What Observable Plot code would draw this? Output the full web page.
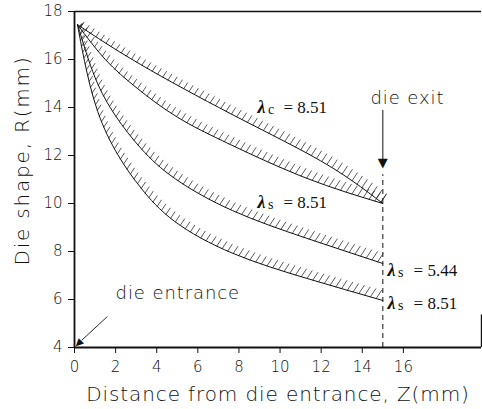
<!DOCTYPE html>
<html><head><meta charset="utf-8">
<script src="https://cdn.jsdelivr.net/npm/d3@7"></script>
<script src="https://cdn.jsdelivr.net/npm/@observablehq/plot@0.6"></script>
<style>
body{margin:0;background:#fff}
.sans text{letter-spacing:0.9px}
.ytitle text{letter-spacing:1.8px}
</style></head><body><div id="chart"></div>
<script>
// die profiles: distance from die entrance Z (mm) vs radius R (mm)
const zC1 = [0.15, 3.2, 7.6, 11.3, 13.5, 15];
const rC1 = [17.45, 15.8, 13.74, 12.1, 10.95, 10.0];
const zS1 = [0.15, 1.5, 3.05, 5, 7.6, 11.3, 15];
const rS1 = [17.45, 16.0, 14.8, 13.6, 12.45, 11.05, 10.0];
const zS2 = [0.15, 1.0, 2.0, 3.25, 4.9, 7.7, 11.3, 15];
const rS2 = [17.45, 15.25, 13.65, 12.28, 11.03, 9.7, 8.55, 7.5];
const zS3 = [0.15, 0.49, 1.13, 2.11, 3.24, 4.87, 7.7, 11.32, 15];
const rS3 = [17.45, 15.92, 13.83, 12.03, 10.64, 9.255, 7.925, 6.875, 5.96];

const curveIds = ["lc851", "ls851a", "ls544", "ls851b"];
const curveZ = [zC1, zS1, zS2, zS3];
const curveR = [rC1, rS1, rS2, rS3];

const xTicks = [0, 2, 4, 6, 8, 10, 12, 14, 16];
const yTicks = [4, 6, 8, 10, 12, 14, 16, 18];

// curve labels
const labZ = [8.9, 8.9, 15.23, 15.23];
const labR = [14.0, 10.05, 7.21, 5.83];
const labSub = ["c", "s", "s", "s"];
const labVal = ["8.51", "8.51", "5.44", "8.51"];

const dieExitZ = 15;
const exitArrowR = [13.875, 11.75];
const dashR = [4, 11.2];
const entranceArrow = {z1: 1.6, r1: 5.29, z2: 0.35, r2: 4.3, tipZ: 0.22, tipR: 4.18};
const noteText = ["die exit", "die entrance"];
const noteZ = [14.4, 2.0];
const noteR = [14.375, 6.25];

const curveRows = curveIds.flatMap((id, k) => curveZ[k].map((z, i) => ({id, z, r: curveR[k][i]})));
const labels = labZ.map((z, i) => ({z, r: labR[i], sub: labSub[i], value: labVal[i]}));
const notes = noteText.map((t, i) => ({t, z: noteZ[i], r: noteR[i]}));

const serif = "Liberation Serif, Times New Roman, serif";
const sans = "DejaVu Sans, sans-serif";

const plot = Plot.plot({
  width: 482, height: 409,
  marginLeft: 74, marginRight: 1, marginTop: 11, marginBottom: 62,
  x: {domain: [0, 19.8], ticks: xTicks, tickSize: 6, tickPadding: 8, label: null},
  y: {domain: [4, 18], ticks: yTicks, tickSize: 6, tickPadding: 6, label: null},
  style: {fontFamily: sans, fontSize: "15px", fontWeight: 200, color: "#111", background: "#fff"},
  marks: [
    Plot.ruleY([18], {stroke: "#111", strokeWidth: 1.4}),
    Plot.ruleX([0], {stroke: "#111", strokeWidth: 1.8}),
    Plot.ruleY([4], {stroke: "#111", strokeWidth: 1.8}),
    Plot.ruleX([19.8], {y1: 4, y2: 5.35, stroke: "#111", strokeWidth: 1.4}),
    Plot.ruleX([dieExitZ], {y1: dashR[0], y2: dashR[1], stroke: "#111", strokeWidth: 1, strokeDasharray: "5,4"}),
    Plot.ruleX([dieExitZ], {y1: exitArrowR[0], y2: exitArrowR[1], stroke: "#111", strokeWidth: 1}),
    Plot.text(["▼"], {x: dieExitZ, y: 11.69, fontSize: 13, fontFamily: "DejaVu Sans", fontWeight: "normal", fill: "#111"}),
    Plot.link([entranceArrow], {x1: "z1", y1: "r1", x2: "z2", y2: "r2", stroke: "#111", strokeWidth: 0.9}),
    Plot.text([entranceArrow], {x: "tipZ", y: "tipR", text: () => "▼", rotate: 45, fontSize: 10, fontFamily: "DejaVu Sans", fontWeight: "normal", fill: "#111"}),
    Plot.line(curveRows, {x: "z", y: "r", z: "id", curve: "natural", stroke: "#111", strokeWidth: 1, className: "hatched"}),
    Plot.text(notes, {x: "z", y: "r", text: "t", textAnchor: "start", fontSize: 18, className: "sans", fill: "#111"}),
    Plot.text(labels, {x: "z", y: "r", text: () => "λ", textAnchor: "start", fontFamily: serif, fontStyle: "italic", fontWeight: "bold", fontSize: 18, fill: "#111"}),
    Plot.text(labels, {x: "z", y: "r", text: "sub", dx: 10.5, dy: 2, textAnchor: "start", fontFamily: serif, fontWeight: "normal", fontSize: 14, fill: "#111"}),
    Plot.text(labels, {x: "z", y: "r", text: d => "= " + d.value, dx: 26, textAnchor: "start", fontFamily: serif, fontWeight: "normal", fontSize: 17, fill: "#111"}),
    Plot.text(["Distance from die entrance, Z(mm)"], {frameAnchor: "bottom", dy: 53, lineAnchor: "bottom", textAnchor: "middle", fontSize: 20, className: "sans", fill: "#111"}),
    Plot.text(["Die shape, R(mm)"], {frameAnchor: "left", dx: -52, dy: -19, rotate: -90, textAnchor: "middle", lineAnchor: "middle", fontSize: 20, className: "ytitle", fill: "#111"})
  ]
});
document.getElementById("chart").append(plot);

// hatching on the upper side of each die profile, derived from the drawn path
const svgNS = "http://www.w3.org/2000/svg";
plot.querySelectorAll(".hatched path").forEach(p => {
  const L = p.getTotalLength();
  const g = document.createElementNS(svgNS, "g");
  g.setAttribute("stroke", "#222");
  g.setAttribute("stroke-width", "0.75");
  for (let s = 4; s < L - 1; s += 6) {
    const pt = p.getPointAtLength(s);
    const t = s / L;
    const len = 5.5 + 4.5 * t;
    const ln = document.createElementNS(svgNS, "line");
    ln.setAttribute("x1", pt.x); ln.setAttribute("y1", pt.y);
    ln.setAttribute("x2", pt.x + len * 0.55); ln.setAttribute("y2", pt.y - len * 0.83);
    g.appendChild(ln);
  }
  p.parentNode.appendChild(g);
});
</script></body></html>
